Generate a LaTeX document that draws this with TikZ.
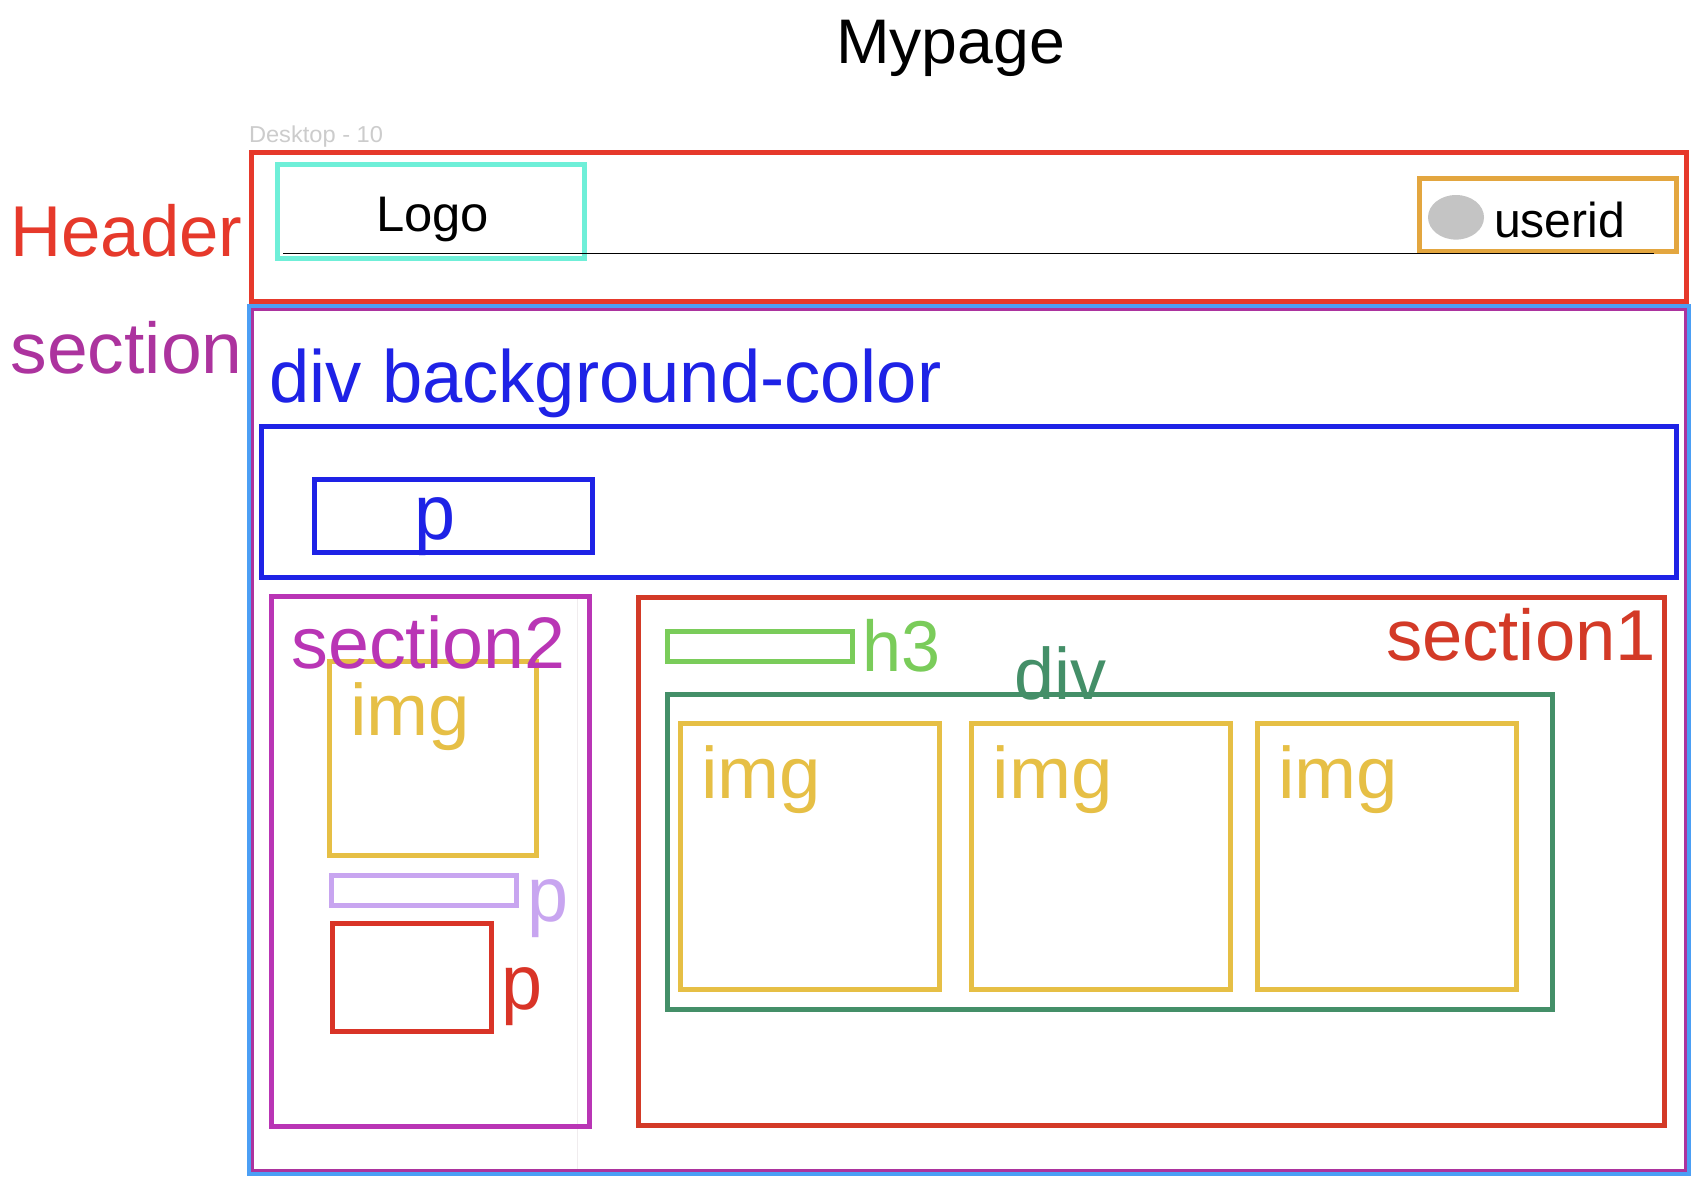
\documentclass[tikz,border=0pt]{standalone}
\usepackage{fontspec}
\usepackage{graphicx}
\setmainfont{Liberation Sans}
\definecolor{cheader}{HTML}{E6392B}
\definecolor{cteal}{HTML}{6FEFD8}
\definecolor{corange}{HTML}{E3A63F}
\definecolor{cgrey}{HTML}{C4C4C4}
\definecolor{cblue}{HTML}{4B9FF5}
\definecolor{csection}{HTML}{AC339E}
\definecolor{cdiv}{HTML}{1E22E6}
\definecolor{csectwo}{HTML}{B935B5}
\definecolor{cimg}{HTML}{E6BF45}
\definecolor{clilac}{HTML}{C8A5F0}
\definecolor{credp}{HTML}{D93427}
\definecolor{csecone}{HTML}{D33A27}
\definecolor{cgreen}{HTML}{7ACC5A}
\definecolor{cdgreen}{HTML}{448F68}
\definecolor{cdesk}{HTML}{CCCCCC}
\definecolor{cfaint}{HTML}{F0ECEE}
\tikzset{
  box/.style={draw=#1,line width=4.7pt},
  lbl/.style={anchor=base west,inner sep=0pt,outer sep=0pt,text=#1},
}
% name, left, baseline, colour, font size, width, text
\newcommand{\lblnode}[7]{\node[lbl=#4] (#1) at (#2,#3) {\fontsize{#5}{#5}\selectfont\resizebox{#6pt}{\height}{#7}};}
\begin{document}
\begin{tikzpicture}[x=1pt,y=-1pt]
\useasboundingbox (0,0) rectangle (1702,1186);
\fill[white] (0,0) rectangle (1702,1186);
% faint guide
\draw[cfaint,line width=1pt] (577.3,599) -- (577.3,1170);
% header
\draw[box=cheader] (251.4,152.4) rectangle (1686.6,301.4);
\draw[box=cteal] (277.4,164.4) rectangle (584.6,258.4);
\draw[box=corange] (1419.4,178.4) rectangle (1676.6,251.4);
\draw[black,line width=1pt] (283,253.5) -- (1654,253.5);
\fill[cgrey] (1456,217.3) ellipse [x radius=28,y radius=22.3];
% section
\draw[cblue,line width=4.4pt] (249,306.2) rectangle (1689,1173.6);
\draw[csection,line width=3.2pt] (252.6,309.3) rectangle (1685.1,1170.4);
% div band
\draw[box=cdiv] (261.4,426.4) rectangle (1676.8,577.4);
\draw[box=cdiv] (314.4,479.4) rectangle (592.6,552.6);
% section2
\draw[box=cimg] (329.4,661.4) rectangle (536.6,855.6);
\draw[box=csectwo] (271.4,596.4) rectangle (589.6,1126.4);
\draw[box=clilac] (331.4,875.4) rectangle (516.6,905.6);
\draw[box=credp] (332.4,923.4) rectangle (491.6,1031.6);
% section1
\draw[box=csecone] (638.4,597.4) rectangle (1664.6,1125.6);
\draw[box=cgreen] (667.4,631.4) rectangle (852.6,661.6);
\draw[box=cdgreen] (667.4,694.4) rectangle (1552.6,1009.6);
\draw[box=cimg] (680.4,723.4) rectangle (939.6,989.6);
\draw[box=cimg] (971.4,723.4) rectangle (1230.6,989.6);
\draw[box=cimg] (1257.4,723.4) rectangle (1516.6,989.6);
% texts
\lblnode{tmypage}{836}{63}{black}{63}{229}{Mypage}
\lblnode{tdesk}{249}{142.7}{cdesk}{23}{134}{Desktop - 10}
\lblnode{theader}{10.5}{256.3}{cheader}{72}{232}{Header}
\lblnode{tsection}{10.5}{373}{csection}{72}{232}{section}
\lblnode{tlogo}{376}{231}{black}{50}{113}{Logo}
\lblnode{tuser}{1494}{237.7}{black}{49}{131}{userid}
\lblnode{tdivbg}{269.5}{402.7}{cdiv}{74}{672}{div background-color}
\lblnode{tpblue}{414.5}{539}{cdiv}{78}{41}{p}
\lblnode{tsectwo}{291.5}{668.7}{csectwo}{73}{274}{section2}
\lblnode{timga}{350}{735.5}{cimg}{73}{120}{img}
\lblnode{tplilac}{527.5}{921}{clilac}{78}{41}{p}
\lblnode{tpred}{501}{1009}{credp}{78}{41}{p}
\lblnode{thth}{862}{671.7}{cgreen}{72}{78}{h3}
\lblnode{tdivsm}{1014}{699.5}{cdgreen}{73}{92}{div}
\lblnode{tsecone}{1386}{660.3}{csecone}{72}{270}{section1}
\lblnode{timgb}{701}{798.5}{cimg}{73}{120}{img}
\lblnode{timgc}{992.5}{798.5}{cimg}{73}{120}{img}
\lblnode{timgd}{1278}{798.5}{cimg}{73}{120}{img}
\end{tikzpicture}
\end{document}
